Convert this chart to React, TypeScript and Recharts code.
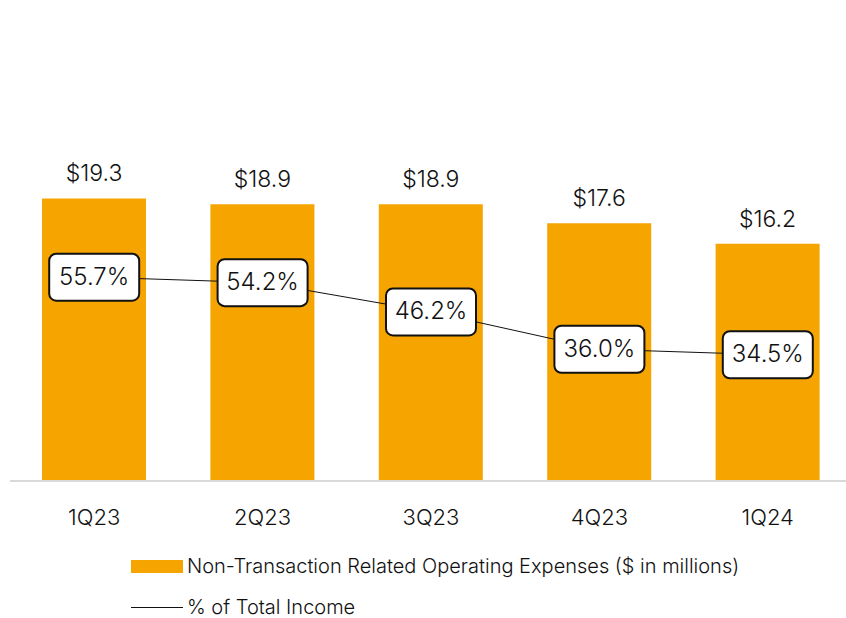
import React from 'react';
import { ComposedChart, Bar, Line, XAxis, YAxis, LabelList, Legend } from 'recharts';

const quarters = ['1Q23', '2Q23', '3Q23', '4Q23', '1Q24'];
const expenses = [19.3, 18.9, 18.9, 17.6, 16.2];
const incomePct = [55.7, 54.2, 46.2, 36.0, 34.5];

const data = quarters.map((q, i) => ({ name: q, expenses: expenses[i], pct: incomePct[i] }));

const FONT = 'Inter, sans-serif';
const WEIGHT = 300;
const ORANGE = '#F5A400';

const PctBox = (props: any) => {
  const { x, y, value } = props;
  const w = 90;
  const h = 47;
  return (
    <g>
      <rect x={x - w / 2} y={y - h / 2} width={w} height={h} rx={7} ry={7} fill="#fff" stroke="#111" strokeWidth={2} />
      <text x={x} y={y + 1} textAnchor="middle" dominantBaseline="middle" fontSize={24} fontWeight={WEIGHT} fontFamily={FONT} fill="#111">
        {`${value.toFixed(1)}%`}
      </text>
    </g>
  );
};

const LegendBox = () => (
  <div style={{ fontFamily: FONT, fontWeight: WEIGHT, fontSize: 20, color: '#111' }}>
    <div style={{ display: 'flex', alignItems: 'center', height: 22 }}>
      <span style={{ display: 'inline-block', width: 52, height: 13, background: ORANGE, marginRight: 4 }} />
      Non-Transaction Related Operating Expenses ($ in millions)
    </div>
    <div style={{ display: 'flex', alignItems: 'center', height: 22, marginTop: 19 }}>
      <span style={{ display: 'inline-block', width: 52, height: 1, background: '#111', marginRight: 4 }} />
      % of Total Income
    </div>
  </div>
);

const App: React.FC = () => {
  return (
    <div style={{ position: 'absolute', left: 0, top: 0, width: 846, height: 618, overflow: 'hidden', background: '#fff' }}>
      <ComposedChart width={852} height={618} data={data} margin={{ top: 115, right: 0, bottom: 97, left: 10 }}>
        <XAxis
          dataKey="name"
          axisLine={{ stroke: '#d9d9d9', strokeWidth: 2 }}
          tickLine={false}
          tickMargin={22}
          height={40}
          tick={{ fontSize: 22, fontWeight: WEIGHT, fontFamily: FONT, fill: '#111' }}
          interval={0}
        />
        <YAxis yAxisId="left" hide domain={[0, 25]} />
        <YAxis yAxisId="right" hide domain={[0, 100]} orientation="right" />
        <Legend layout="horizontal" verticalAlign="middle" align="center" wrapperStyle={{ top: 555, left: 131, width: 'auto' }} content={() => <LegendBox />} />
        <Bar yAxisId="left" dataKey="expenses" fill={ORANGE} barSize={104} isAnimationActive={false}>
          <LabelList dataKey="expenses" position="top" offset={17} formatter={(v: any) => `$${Number(v).toFixed(1)}`} style={{ fontSize: 23, fontWeight: WEIGHT, fontFamily: FONT, fill: '#111' }} />
        </Bar>
        <Line yAxisId="right" dataKey="pct" stroke="#111" strokeWidth={1} dot={false} isAnimationActive={false}>
          <LabelList dataKey="pct" content={<PctBox />} />
        </Line>
      </ComposedChart>
    </div>
  );
};

export default App;
